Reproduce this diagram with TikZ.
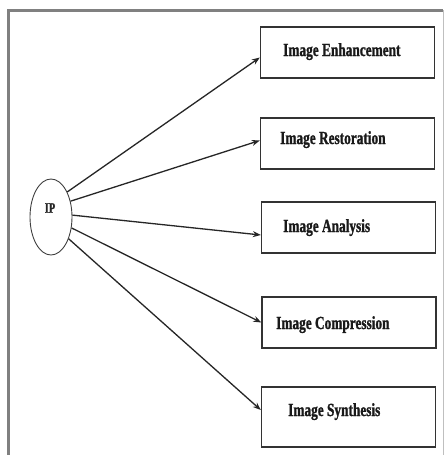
\documentclass[tikz,border=0pt]{standalone}
\usepackage{fontspec}
\newfontfamily\boxfont[FakeStretch=0.72,FakeBold=1.2]{Liberation Serif}
\usetikzlibrary{arrows.meta,shapes.geometric}
\begin{document}
\begin{tikzpicture}[x=1pt,y=-1pt,
  framestyle/.style={draw=black!50,line width=3pt},
  rightframe/.style={draw=black!25,line width=1pt},
  procbox/.style={draw=black!80,line width=1.4pt,minimum width=174pt,minimum height=51pt,inner sep=0pt},
  ipnode/.style={draw=black!75,line width=0.9pt,ellipse,minimum width=42pt,minimum height=76pt,inner sep=0pt},
  lbl/.style={font=\boxfont\bfseries\fontsize{18.5}{20}\selectfont,inner sep=0pt,text=black!90},
  iplbl/.style={font=\boxfont\bfseries\fontsize{14.5}{16}\selectfont,inner sep=0pt,text=black!85},
  conn/.style={draw=black!85,line width=1.3pt,-{Stealth[length=8pt,width=6pt]}}
]
\useasboundingbox (0,0) rectangle (445,455);
\fill[white] (0,0) rectangle (445,455);
% frame
\coordinate (ftl) at (8,10);
\coordinate (ftr) at (443,10);
\coordinate (fbl) at (8,455);
\coordinate (fbr) at (443,455);
\draw[rightframe] (ftr) -- (fbr);
\draw[framestyle] (fbl) -- (ftl) -- (ftr);
% nodes
\node[ipnode] (ip) at (51,217) {};
\node[iplbl] (iptext) at (50,208) {IP};
\node[procbox] (enh) at (347.5,52.5) {};
\node[procbox] (res) at (347.5,143.5) {};
\node[procbox] (ana) at (348.5,227.5) {};
\node[procbox] (com) at (349,322.5) {};
\node[procbox, minimum height=60pt] (syn) at (348.5,417) {};
\node[lbl,anchor=base west] (enht) at (283,56) {Image Enhancement};
\node[lbl,anchor=base west] (rest) at (280,144) {Image Restoration};
\node[lbl,anchor=base west] (anat) at (283,232) {Image Analysis};
\node[lbl,anchor=base west] (comt) at (276,329) {Image Compression};
\node[lbl,anchor=base west] (synt) at (288,416) {Image Synthesis};
% connectors
\draw[conn] (ip.57) -- ([yshift=-5pt]enh.west);
\draw[conn] (ip.39) -- ([yshift=3pt]res.west);
\draw[conn] (ip.5) -- ([yshift=-7.5pt]ana.west);
\draw[conn] (ip.-28) -- (com.west);
\draw[conn] (ip.-51) -- ([yshift=7pt]syn.west);
\end{tikzpicture}
\end{document}
